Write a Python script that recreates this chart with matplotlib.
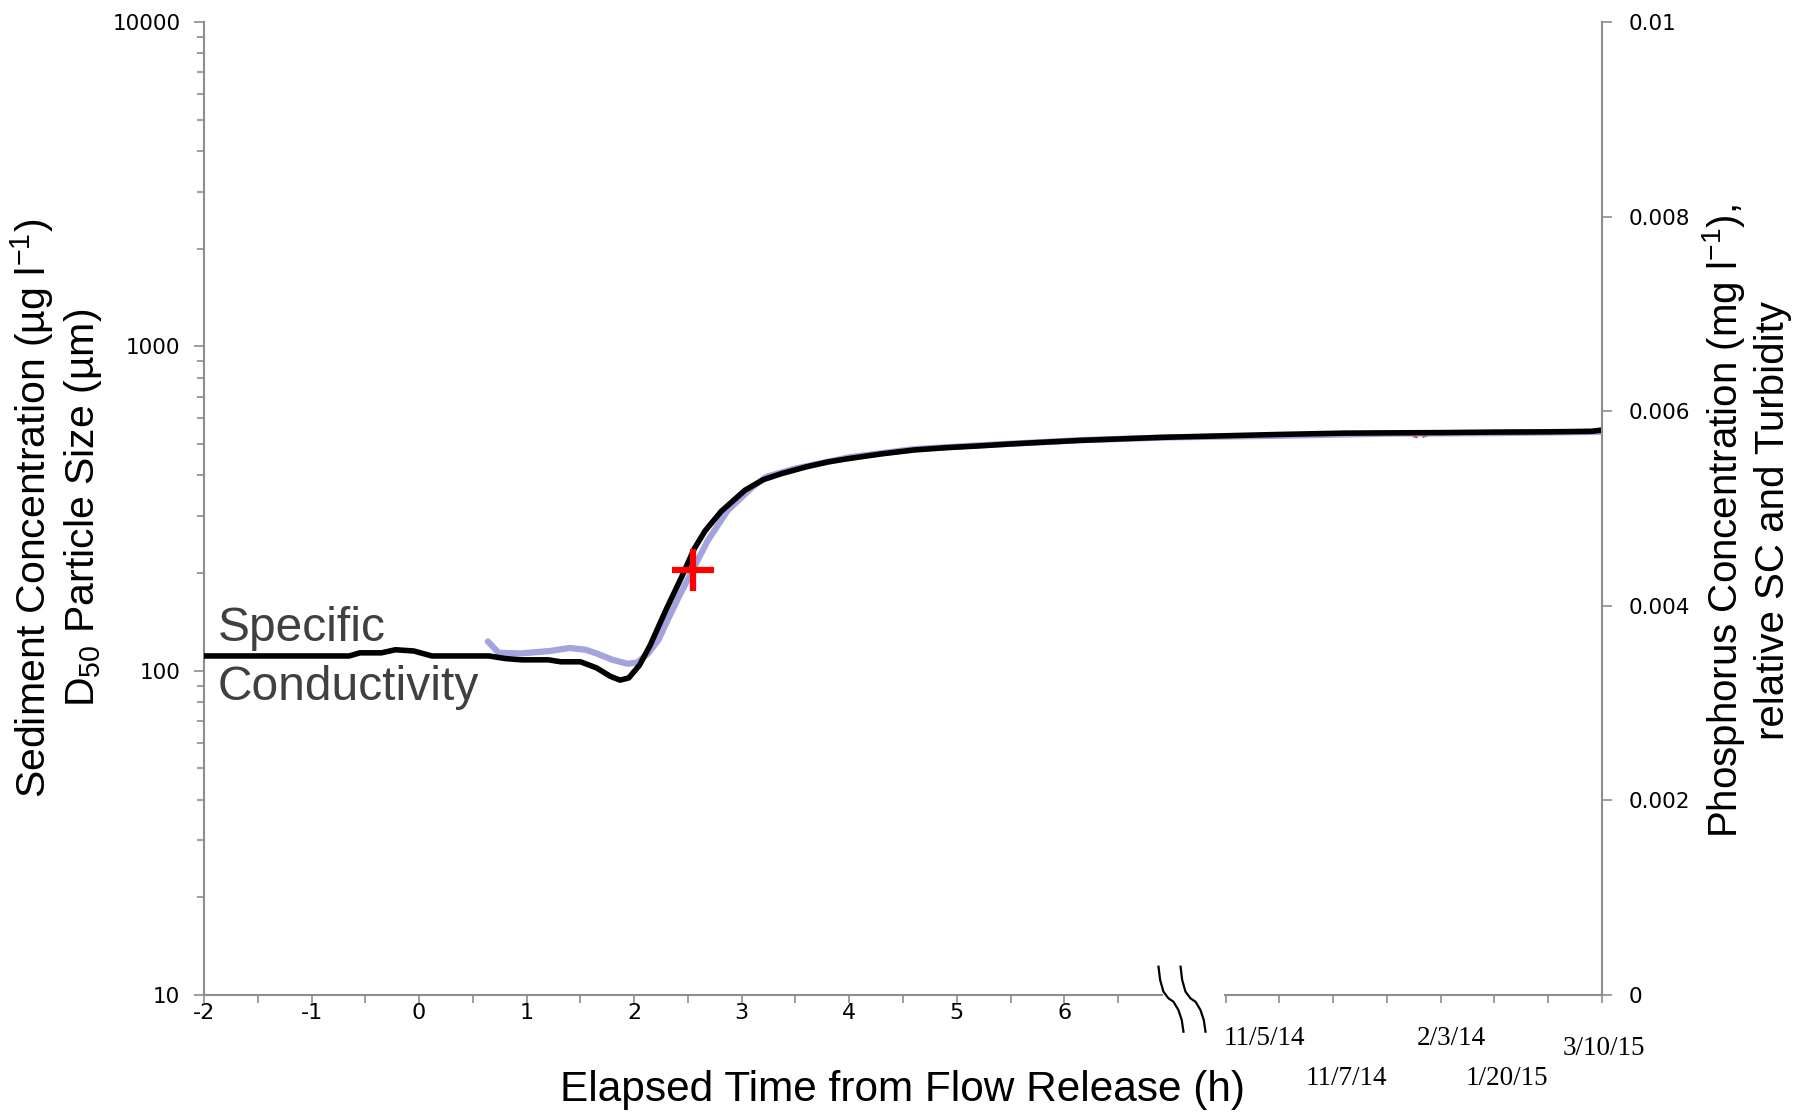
import matplotlib
matplotlib.use("Agg")
import matplotlib.pyplot as plt
import matplotlib.transforms as mtransforms
from matplotlib.ticker import LogLocator, NullFormatter, FixedLocator

plt.rcParams['font.family'] = ['Liberation Sans', 'DejaVu Sans']
plt.rcParams['mathtext.fontset'] = 'custom'
plt.rcParams['mathtext.rm'] = 'Liberation Sans'
plt.rcParams['mathtext.it'] = 'Liberation Sans:italic'

# ---------------- data ----------------
sc_hours = [-2.0, -0.65, -0.55, -0.35, -0.22, -0.05, 0.12, 0.65, 0.8, 0.95, 1.2, 1.32,
            1.5, 1.65, 1.78, 1.87, 1.95, 2.05, 2.15, 2.3, 2.44, 2.56, 2.66, 2.81, 3.03,
            3.2, 3.37, 3.6, 3.8, 4.0, 4.3, 4.6, 4.9, 5.2, 5.5, 5.8, 6.16, 6.5, 6.9,
            7.5, 8.0, 8.6, 9.0, 9.5, 10.0, 10.5, 10.9, 11.0]
sc_values = [111, 111, 113.5, 113.5, 116, 115, 111, 111, 109, 108, 108, 106.5,
             106.5, 102, 96, 93.5, 95, 104, 120, 155, 194, 238, 270, 310, 360,
             388, 405, 425, 440, 451, 466, 479, 487, 493, 500, 506, 513, 518, 524,
             530, 535, 540, 541, 542, 544, 545, 547, 552]

turb_hours = [0.64, 0.74, 0.94, 1.22, 1.40, 1.55, 1.65, 1.80, 1.94, 2.03, 2.13, 2.23,
              2.31, 2.42, 2.53, 2.685, 2.87, 3.1, 3.23, 3.5, 4.0, 4.6, 5.2, 6.16,
              7.0, 8.0, 9.0, 10.0, 11.0]
turb_values = [123, 113.5, 113, 115, 117.5, 116, 113, 108, 105, 106, 113, 125,
               143, 170, 200, 252, 312, 368, 396, 420, 455, 482, 495, 514,
               524, 530, 538, 540, 545]

phos_hours = [9.15, 9.3, 9.45]
phos_values = [538, 522, 538]

sample_hour = [2.55]
sample_value = [204]

hour_ticks_left = [-2, -1.5, -1, -0.5, 0, 0.5, 1, 1.5, 2, 2.5, 3, 3.5, 4, 4.5, 5, 5.5, 6, 6.5]
hour_ticks_right = [7.5, 8, 8.5, 9, 9.5, 10, 10.5, 11]
hour_labels = ["-2", "", "-1", "", "0", "", "1", "", "2", "", "3", "", "4", "", "5", "", "6", ""]

date_labels = ["11/5/14", "11/7/14", "2/3/14", "1/20/15", "3/10/15"]
date_hours = [7.86, 8.62, 9.6, 10.12, 11.02]
date_rows = [0, 1, 0, 1, 0.25]

right_ticks = [0, 0.002, 0.004, 0.006, 0.008, 0.01]
right_labels = ["0", "0.002", "0.004", "0.006", "0.008", "0.01"]

# break-mark shape (hour, axes-y)
brk_dh = [6.876, 6.891, 6.922, 6.968, 7.015, 7.061, 7.092, 7.108]
brk_y = [0.0291, 0.0154, 0.0034, -0.0034, -0.0069, -0.0154, -0.0257, -0.0377]
brk_shift = 0.205

# ---------------- figure ----------------
W, H = 1797, 1113
fig = plt.figure(figsize=(W / 100, H / 100), dpi=100)
ax = fig.add_axes([204 / W, 1 - 995 / H, (1602 - 204) / W, (995 - 22) / H])
ax2 = ax.twinx()

gray = '#8c8c8c'

ax.plot(turb_hours, turb_values, color='#a3a3de', lw=4.5, solid_capstyle='round', zorder=2)
ax.plot(sc_hours, sc_values, color='black', lw=4.0, solid_capstyle='butt', zorder=3)
ax.plot(phos_hours, phos_values, color='#d01010', lw=1.2, ls=(0, (3, 3)), zorder=1)
ax.plot(sample_hour, sample_value, marker='+', color='#ff0000', ms=30, mew=4.5,
        ls='none', zorder=4)

ax.set_yscale('log')
ax.set_ylim(10, 10000)
ax.set_xlim(-2, 11)
ax.yaxis.set_minor_locator(LogLocator(base=10, subs=range(2, 10), numticks=20))
ax.yaxis.set_minor_formatter(NullFormatter())
ax.set_yticks([10, 100, 1000, 10000])
ax.set_yticklabels(["10", "100", "1000", "10000"])

ax.xaxis.set_major_locator(FixedLocator(hour_ticks_left + hour_ticks_right))
ax.set_xticklabels(hour_labels + [""] * len(hour_ticks_right))

ax2.set_ylim(0, 0.01)
ax2.set_yticks(right_ticks)
ax2.set_yticklabels(right_labels)

for a in (ax, ax2):
    for s in ('top', 'bottom'):
        a.spines[s].set_visible(False)
    for s in ('left', 'right'):
        a.spines[s].set_color(gray)
        a.spines[s].set_linewidth(1.5)
ax.spines['right'].set_visible(False)
ax2.spines['left'].set_visible(False)

ax.tick_params(axis='y', which='major', direction='out', length=7, width=1.2,
               color=gray, pad=10, labelsize=15.5)
ax.tick_params(axis='y', which='minor', direction='out', length=5, width=1.2, color=gray)
ax.tick_params(axis='x', direction='out', length=6, width=1.2, color=gray, pad=0,
               labelsize=16)
ax2.tick_params(axis='y', direction='out', length=7, width=1.2, color=gray, pad=12,
                labelsize=15.5)
for lab in ax.get_xticklabels() + ax.get_yticklabels() + ax2.get_yticklabels():
    lab.set_fontfamily('DejaVu Sans')

# broken x axis
trans = mtransforms.blended_transform_factory(ax.transData, ax.transAxes)
ax.plot([-2, 6.905], [0, 0], color=gray, lw=1.5, transform=trans, clip_on=False, zorder=5)
ax.plot([7.49, 11], [0, 0], color=gray, lw=1.5, transform=trans, clip_on=False, zorder=5)
for k in (0, 1):
    ax.plot([h + k * brk_shift for h in brk_dh], brk_y, color='black', lw=1.6,
            transform=trans, clip_on=False, zorder=5)

# date labels
for lab, h, r in zip(date_labels, date_hours, date_rows):
    ax.text(h, -0.045 - r * 0.041, lab, transform=trans, ha='center', va='center',
            family=['Liberation Serif', 'DejaVu Serif'], size=19.5, clip_on=False)

# in-plot annotation
ax.text(-1.87, 135, "Specific", color='#404040', size=34.5, ha='left', va='center')
ax.text(-1.87, 89, "Conductivity", color='#404040', size=34.5, ha='left', va='center')

# axis labels
fig.text(903 / W, 1 - 1090 / H, "Elapsed Time from Flow Release (h)", ha='center',
         va='center', size=30.5)
fig.text(56 / W, 1 - 508 / H,
         "Sediment Concentration (µg l$^{-1}$)\nD$_{50}$ Particle Size (µm)",
         rotation=90, ha='center', va='center', size=29.5, multialignment='center',
         linespacing=1.2)
fig.text(1746 / W, 1 - 521 / H,
         "Phosphorus Concentration (mg l$^{-1}$),\nrelative SC and Turbidity",
         rotation=90, ha='center', va='center', size=29, multialignment='center',
         linespacing=1.25)

fig.savefig("out.png", dpi=100)
